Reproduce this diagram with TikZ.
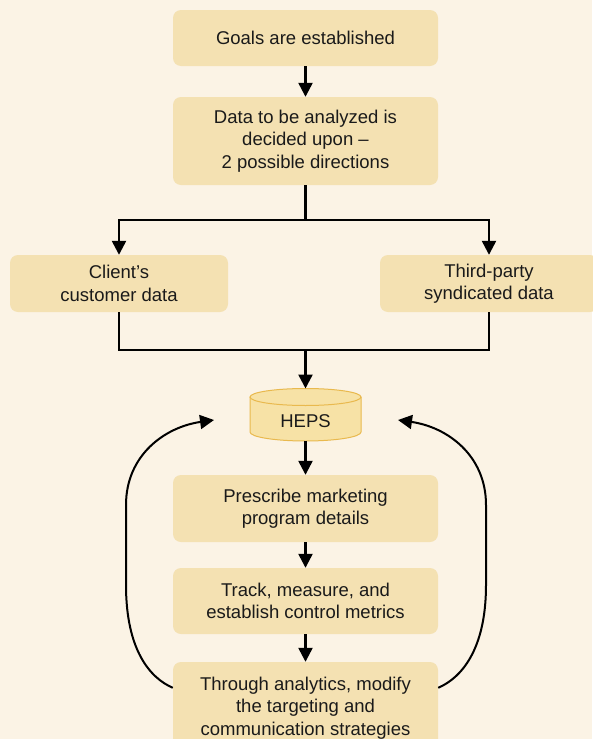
\documentclass[tikz,border=0pt]{standalone}
\usepackage{fontspec}
\setmainfont{Liberation Sans}
\usetikzlibrary{arrows.meta,calc}
\definecolor{bgc}{HTML}{FBF3E5}
\definecolor{boxc}{HTML}{F4E1B2}
\definecolor{cylc}{HTML}{F7E2A6}
\definecolor{cylb}{HTML}{E9B94E}
\definecolor{txt}{HTML}{1A1A1A}
\begin{document}
\begin{tikzpicture}[x=1pt,y=-1pt,
  stepbox/.style={draw=none, fill=boxc, rounded corners=8pt, align=center,
    font=\fontsize{18.5}{22.5}\selectfont, text=txt, inner sep=0pt,
    minimum width=265pt},
  conn/.style={line width=2.4pt, -{Triangle[length=14pt,width=14pt]}},
  loopconn/.style={line width=2pt, -{Triangle[length=14pt,width=14pt]}},
  plainline/.style={line width=2.4pt}]
\fill[bgc] (0,0) rectangle (592,739);
\useasboundingbox (0,0) rectangle (592,739);

\node[stepbox, minimum height=56pt] (g1) at (305.5,38) {Goals are established};
\node[stepbox, minimum height=88pt] (g2) at (305.5,141) {Data to be analyzed is\\decided upon --\\2 possible directions};
\node[stepbox, minimum height=57pt, minimum width=218pt] (cl) at (119,283.5) {Client's\\customer data};
\node[stepbox, minimum height=57pt, minimum width=218pt] (tp) at (489,283.5) {Third-party\\syndicated data};
\node[stepbox, minimum height=67pt] (b5) at (305.5,508.5) {Prescribe marketing\\program details};
\node[stepbox, minimum height=66pt] (b6) at (305.5,601) {Track, measure, and\\establish control metrics};
\node[stepbox, minimum height=92pt] (b7) at (305.5,708) {Through analytics, modify\\the targeting and\\communication strategies};

% cylinder HEPS
\fill[cylc] (250,397) -- (250,432)
  .. controls (250,437) and (275,441) .. (305.5,441)
  .. controls (336,441) and (361,437) .. (361,432) -- (361,397) -- cycle;
\draw[cylb, line width=1pt] (250,397) -- (250,432)
  .. controls (250,437) and (275,441) .. (305.5,441)
  .. controls (336,441) and (361,437) .. (361,432) -- (361,397);
\draw[cylb, fill=cylc, line width=1pt] (305.5,397) ellipse [x radius=55.5pt, y radius=8.5pt];
\node[font=\fontsize{18.5}{22.5}\selectfont, text=txt] (heps) at (305.5,421) {HEPS};
\coordinate (hepstop) at (305.5,388.5);
\coordinate (hepsbot) at (305.5,441);

% connectors
\draw[conn] (g1.south) -- (g2.north);
\coordinate (sp) at (305.5,220);
\draw[plainline] (g2.south) -- (sp);
\draw[conn] (sp) -| (cl.north);
\draw[conn] (sp) -| (tp.north);
\coordinate (mg) at (305.5,350);
\draw[plainline] (cl.south) |- (mg);
\draw[plainline] (tp.south) |- (mg);
\draw[conn] (mg) -- (hepstop);
\draw[conn] (hepsbot) -- (b5.north);
\draw[conn] (b5.south) -- (b6.north);
\draw[conn] (b6.south) -- (b7.north);

% feedback loops
\coordinate (lt) at (214,420);
\coordinate (rt) at (398,420);
\draw[loopconn] ($(b7.north west)+(0,26)$)
  .. controls (150,678) and (126,650) .. (126,585)
  -- (126,505) .. controls (126,455) and (165,427) .. (lt);
\draw[loopconn] ($(b7.north east)+(0,26)$)
  .. controls (461,678) and (486,650) .. (486,585)
  -- (486,505) .. controls (486,455) and (447,427) .. (rt);
\end{tikzpicture}
\end{document}
